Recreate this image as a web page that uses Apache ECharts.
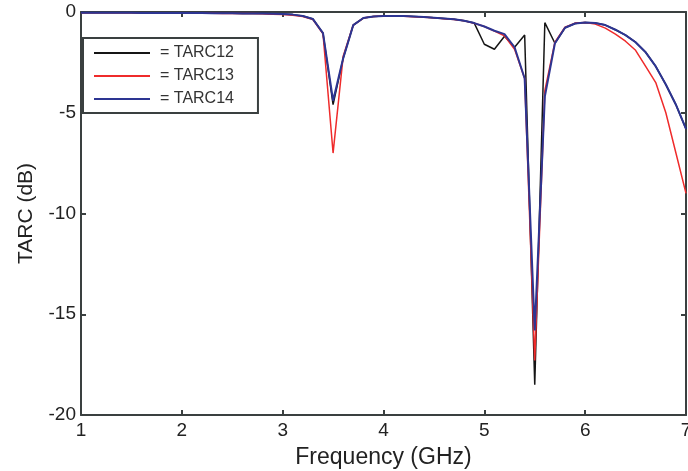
<!DOCTYPE html>
<html>
<head>
<meta charset="utf-8">
<script src="https://cdn.jsdelivr.net/npm/echarts@6/dist/echarts.min.js"></script>
<style>
  html, body { margin: 0; padding: 0; background: #fff; overflow: hidden; }
  #chart { width: 688px; height: 471px; }
</style>
</head>
<body>
<div id="chart"></div>
<script>
// Frequency sweep, 1 to 7 GHz in 0.1 GHz steps
const freq = [
  1.0, 1.1, 1.2, 1.3, 1.4, 1.5, 1.6, 1.7, 1.8, 1.9,
  2.0, 2.1, 2.2, 2.3, 2.4, 2.5, 2.6, 2.7, 2.8, 2.9,
  3.0, 3.1, 3.2, 3.3, 3.4, 3.5, 3.6, 3.7, 3.8, 3.9,
  4.0, 4.1, 4.2, 4.3, 4.4, 4.5, 4.6, 4.7, 4.8, 4.9,
  5.0, 5.1, 5.2, 5.3, 5.4, 5.5, 5.6, 5.7, 5.8, 5.9,
  6.0, 6.1, 6.2, 6.3, 6.4, 6.5, 6.6, 6.7, 6.8, 6.9,
  7.0
];

// TARC (dB)
const tarc12 = [
  -0.04, -0.04, -0.04, -0.04, -0.04, -0.04, -0.05, -0.05, -0.05, -0.05,
  -0.05, -0.05, -0.05, -0.06, -0.06, -0.06, -0.07, -0.07, -0.08, -0.09,
  -0.10, -0.13, -0.20, -0.35, -1.05, -4.60, -2.30, -0.65, -0.30, -0.22,
  -0.20, -0.20, -0.20, -0.22, -0.25, -0.28, -0.32, -0.36, -0.43, -0.55,
  -1.60, -1.85, -1.20, -1.75, -1.14, -18.5, -0.53, -1.55, -0.78, -0.57,
  -0.52, -0.55, -0.65, -0.88, -1.15, -1.50, -2.00, -2.70, -3.60, -4.60,
  -5.80
];

const tarc13 = [
  -0.04, -0.04, -0.04, -0.04, -0.04, -0.04, -0.05, -0.05, -0.05, -0.05,
  -0.05, -0.05, -0.06, -0.06, -0.07, -0.07, -0.08, -0.08, -0.09, -0.11,
  -0.13, -0.16, -0.22, -0.37, -1.08, -7.00, -2.20, -0.65, -0.30, -0.22,
  -0.20, -0.20, -0.21, -0.23, -0.26, -0.29, -0.33, -0.37, -0.44, -0.56,
  -0.72, -0.95, -1.18, -1.85, -3.30, -17.3, -3.90, -1.50, -0.75, -0.55,
  -0.52, -0.60, -0.80, -1.10, -1.45, -1.90, -2.70, -3.50, -5.00, -7.00,
  -9.00
];

const tarc14 = [
  -0.04, -0.04, -0.04, -0.04, -0.04, -0.04, -0.05, -0.05, -0.05, -0.05,
  -0.05, -0.05, -0.05, -0.06, -0.06, -0.06, -0.07, -0.07, -0.08, -0.09,
  -0.10, -0.13, -0.20, -0.35, -1.05, -4.40, -2.30, -0.65, -0.30, -0.22,
  -0.20, -0.20, -0.20, -0.22, -0.25, -0.28, -0.32, -0.36, -0.43, -0.55,
  -0.72, -0.93, -1.10, -1.75, -3.30, -15.8, -4.20, -1.55, -0.78, -0.57,
  -0.52, -0.55, -0.65, -0.88, -1.15, -1.50, -2.00, -2.70, -3.60, -4.60,
  -5.80
];

const xTicks = [1, 2, 3, 4, 5, 6, 7];
const yTicks = [-20, -15, -10, -5, 0];

const pairs = (ys) => freq.map((f, i) => [f, ys[i]]);

const frame = '#3a4040';
const font = '"Liberation Sans", Arial, sans-serif';

const chart = echarts.init(document.getElementById('chart'), null, { renderer: 'canvas' });

const baseX = {
  type: 'value', min: 1, max: 7, interval: 1,
  axisLine: { show: true, onZero: false, lineStyle: { color: frame, width: 2 } },
  axisTick: { show: true, inside: true, length: 5, lineStyle: { color: frame, width: 2 } },
  splitLine: { show: false }
};
const baseY = {
  type: 'value', min: -20, max: 0, interval: 5,
  axisLine: { show: true, onZero: false, lineStyle: { color: frame, width: 2 } },
  axisTick: { show: true, inside: true, length: 5, lineStyle: { color: frame, width: 2 } },
  splitLine: { show: false }
};

chart.setOption({
  animation: false,
  backgroundColor: '#fff',
  grid: { left: 81, right: 2, top: 12, bottom: 56, containLabel: false, outerBoundsMode: 'none' },
  legend: {
    orient: 'vertical',
    left: 83, top: 38,
    padding: [7, 24, 6, 11],
    itemGap: 7,
    itemWidth: 56,
    itemHeight: 2,
    icon: 'rect',
    backgroundColor: '#fff',
    borderColor: frame,
    borderWidth: 2,
    borderRadius: 0,
    formatter: (name) => '= ' + name,
    textStyle: { fontFamily: font, fontSize: 16, color: '#333', padding: [0, 0, 0, 5] },
    data: ['TARC12', 'TARC13', 'TARC14']
  },
  xAxis: [
    Object.assign({}, baseX, {
      position: 'bottom',
      name: 'Frequency (GHz)',
      nameLocation: 'middle',
      nameGap: 31,
      nameTextStyle: { fontFamily: font, fontSize: 23, color: '#222' },
      axisLabel: {
        fontFamily: font, fontSize: 19, color: '#222', margin: 6,
        formatter: (v) => (xTicks.includes(v) ? String(v) : '')
      }
    }),
    Object.assign({}, baseX, { position: 'top', axisLabel: { show: false } })
  ],
  yAxis: [
    Object.assign({}, baseY, {
      position: 'left',
      name: 'TARC (dB)',
      nameLocation: 'middle',
      nameGap: 44,
      nameTextStyle: { fontFamily: font, fontSize: 21, color: '#222' },
      axisLabel: {
        fontFamily: font, fontSize: 19, color: '#222', margin: 5,
        formatter: (v) => (yTicks.includes(v) ? String(v) : '')
      }
    }),
    Object.assign({}, baseY, { position: 'right', axisLabel: { show: false } })
  ],
  series: [
    {
      name: 'TARC12', type: 'line', data: pairs(tarc12),
      showSymbol: false, symbol: 'none',
      lineStyle: { color: '#151515', width: 1.5 }, itemStyle: { color: '#151515' },
      z: 3
    },
    {
      name: 'TARC13', type: 'line', data: pairs(tarc13),
      showSymbol: false, symbol: 'none',
      lineStyle: { color: '#ef2b2b', width: 1.5 }, itemStyle: { color: '#ef2b2b' },
      z: 4
    },
    {
      name: 'TARC14', type: 'line', data: pairs(tarc14),
      showSymbol: false, symbol: 'none',
      lineStyle: { color: '#2d3592', width: 2 }, itemStyle: { color: '#2d3592' },
      z: 5
    }
  ]
});
</script>
</body>
</html>
